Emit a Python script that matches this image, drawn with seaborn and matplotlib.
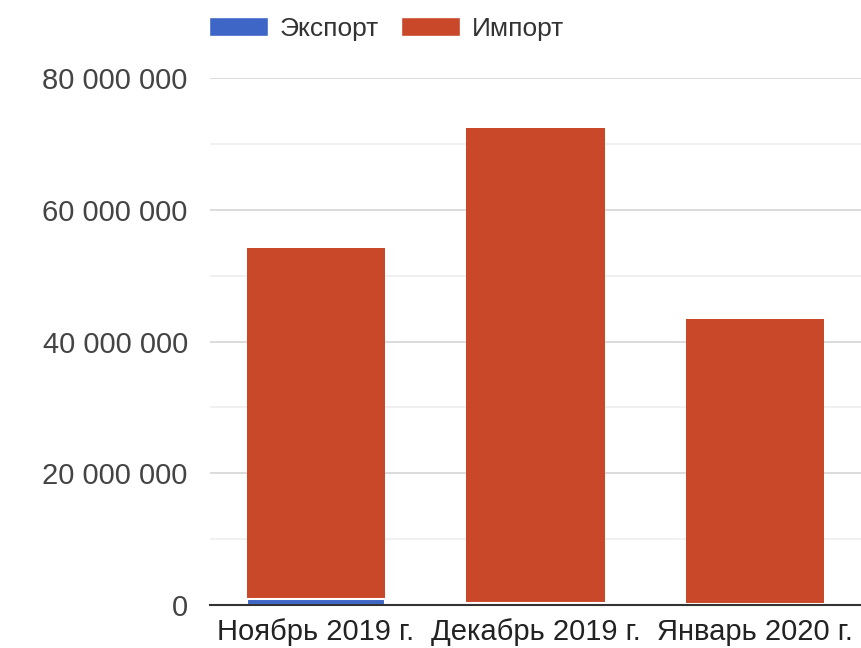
import pandas as pd
import matplotlib
matplotlib.use("Agg")
import matplotlib.pyplot as plt
import matplotlib.ticker as mticker
from matplotlib.patches import Patch
import seaborn as sns

months = ["Ноябрь 2019 г.", "Декабрь 2019 г.", "Январь 2020 г."]
export_vals = [900000, 300000, 100000]
import_vals = [53300000, 72100000, 43300000]

blue = "#3d66c6"
orange = "#c9482a"

df = pd.DataFrame({"month": months, "export": export_vals, "import": import_vals})
df["total"] = df["export"] + df["import"]

sns.set_style("white")
plt.rcParams["font.family"] = ["Liberation Sans", "DejaVu Sans"]

fig = plt.figure(figsize=(8.61, 6.48), dpi=100)
ax = fig.add_axes([210 / 861, 1 - 605 / 648, 1 - 210 / 861, (605 - 78) / 648])

# stacked: draw total in import colour, then export over the base
sns.barplot(data=df, x="month", y="total", color=orange, saturation=1, width=0.63,
            edgecolor="none", ax=ax, zorder=3)
sns.barplot(data=df, x="month", y="export", color=blue, saturation=1, width=0.63,
            edgecolor="white", linewidth=1.5, ax=ax, zorder=4)

ax.set_ylim(0, 80000000)
ax.set_xlim(-0.483, 2.483)
ax.yaxis.set_major_locator(mticker.MultipleLocator(20000000))
ax.yaxis.set_minor_locator(mticker.MultipleLocator(10000000))
ax.yaxis.set_major_formatter(mticker.FuncFormatter(lambda v, p: f"{int(v):,}".replace(",", " ")))
ax.grid(axis="y", which="major", color="#d9d9d9", linewidth=1.3, zorder=0)
ax.grid(axis="y", which="minor", color="#eeeeee", linewidth=1.2, zorder=0)
ax.set_axisbelow(True)
for s in ["top", "right", "left"]:
    ax.spines[s].set_visible(False)
ax.spines["bottom"].set_color("#333333")
ax.spines["bottom"].set_linewidth(1.5)
ax.spines["bottom"].set_zorder(5)
ax.tick_params(axis="both", which="both", length=0, labelsize=21, colors="#444444")
ax.tick_params(axis="y", pad=16)
ax.tick_params(axis="x", pad=9, colors="#222222")
ax.set_xlabel("")
ax.set_ylabel("")

handles = [Patch(facecolor=blue, label="Экспорт"), Patch(facecolor=orange, label="Импорт")]
fig.legend(handles=handles, loc="upper left", bbox_to_anchor=(209 / 861, 1 - 17 / 648),
           ncol=2, frameon=False, fontsize=19, handlelength=2.23, handleheight=0.72,
           handletextpad=0.45, columnspacing=0.83, labelcolor="#333333",
           borderpad=0, borderaxespad=0)

fig.savefig("out.png", dpi=100)
